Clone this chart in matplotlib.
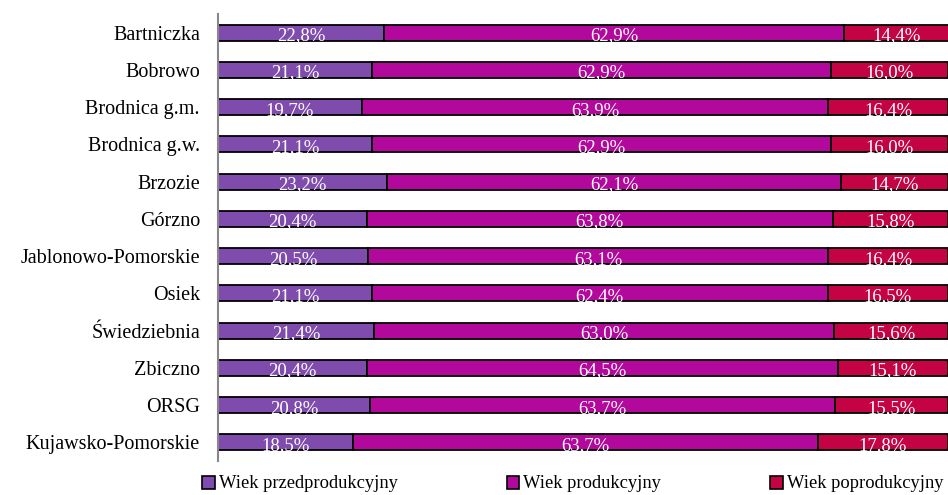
import matplotlib.pyplot as plt
import numpy as np
from matplotlib.patches import Patch

plt.rcParams['font.family'] = ['Liberation Serif', 'DejaVu Serif']

gminy = ["Bartniczka", "Bobrowo", "Brodnica g.m.", "Brodnica g.w.", "Brzozie",
         "Górzno", "Jablonowo-Pomorskie", "Osiek", "Świedziebnia", "Zbiczno",
         "ORSG", "Kujawsko-Pomorskie"]
przed = [22.8, 21.1, 19.7, 21.1, 23.2, 20.4, 20.5, 21.1, 21.4, 20.4, 20.8, 18.5]
prod = [62.9, 62.9, 63.9, 62.9, 62.1, 63.8, 63.1, 62.4, 63.0, 64.5, 63.7, 63.7]
poprod = [14.4, 16.0, 16.4, 16.0, 14.7, 15.8, 16.4, 16.5, 15.6, 15.1, 15.5, 17.8]

series = ["Wiek przedprodukcyjny", "Wiek produkcyjny", "Wiek poprodukcyjny"]
colors = ["#7F4CAE", "#B2089C", "#C40345"]

fig = plt.figure(figsize=(9.48, 4.95), dpi=100)
ax = fig.add_axes([218 / 948, 1 - 461 / 495, 1 - 218 / 948, (461 - 14) / 495])

y = np.arange(len(gminy))
left = np.zeros(len(gminy))
for vals, col in zip([przed, prod, poprod], colors):
    vals = np.array(vals)
    ax.barh(y, vals, left=left, height=0.43, color=col, edgecolor="black", linewidth=1.3)
    for yi, l, v in zip(y, left, vals):
        ax.text(l + v / 2, yi + 0.08, ("%.1f%%" % v).replace(".", ","), ha="center", va="center",
                color="white", fontsize=13.5)
    left += vals

ax.set_xlim(0, 100)
ax.set_ylim(len(gminy) - 0.5, -0.5)
ax.set_yticks(y)
ax.set_yticklabels(gminy, fontsize=14.5)
ax.tick_params(axis="y", length=0, pad=13)
ax.set_xticks([])
for s in ["top", "right", "bottom"]:
    ax.spines[s].set_visible(False)
ax.spines["left"].set_color("#888888")
ax.spines["left"].set_linewidth(1.5)

handles = [Patch(facecolor=c, edgecolor="black", linewidth=1.2) for c in colors]
fig.legend(handles, series, loc="center", bbox_to_anchor=(0.604, 1 - 484 / 495), ncol=3,
           frameon=False, fontsize=13.3, handlelength=0.7, handleheight=0.7,
           handletextpad=0.2, columnspacing=5.9)

fig.savefig("out.png", dpi=100)
